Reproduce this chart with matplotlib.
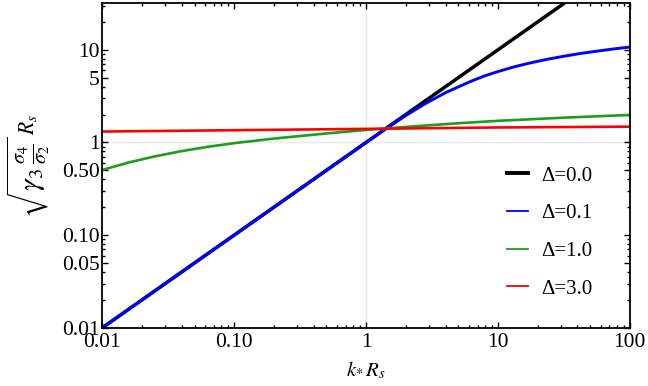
import matplotlib
matplotlib.use('Agg')
import matplotlib.pyplot as plt
from matplotlib.lines import Line2D
from matplotlib.ticker import FixedLocator, LogLocator, NullFormatter

plt.rcParams['font.family'] = ['Liberation Serif', 'DejaVu Serif']
plt.rcParams['mathtext.fontset'] = 'stix'

# ---- data ----
x_black = [0.01, 100.0]
y_black = [0.01, 100.0]

x_blue = [0.01, 0.1, 1.0, 1.41, 2.0, 2.82, 3.98, 5.01, 6.31, 7.94, 10.0, 13.3, 17.8, 23.7, 31.6, 42.2, 56.2, 75.0, 100.0]
y_blue = [0.01, 0.1, 1.0, 1.405, 1.95, 2.63, 3.43, 3.98, 4.60, 5.23, 5.82, 6.55, 7.24, 7.90, 8.51, 9.12, 9.66, 10.2, 10.7]

x_green = [0.01, 0.0158, 0.0251, 0.0398, 0.0631, 0.1, 0.2, 0.5, 1.0, 2.0, 5.0, 10.0, 31.6, 100.0]
y_green = [0.505, 0.607, 0.708, 0.805, 0.897, 0.982, 1.10, 1.25, 1.365, 1.47, 1.61, 1.71, 1.85, 1.98]

x_red = [0.01, 0.1, 1.0, 10.0, 100.0]
y_red = [1.31, 1.355, 1.40, 1.45, 1.48]

labels = ['\u0394=0.0', '\u0394=0.1', '\u0394=1.0', '\u0394=3.0']
colors = ['black', '#0000ff', '#1c9e1c', '#ff0000']

xticks = [0.01, 0.1, 1, 10, 100]
xticklabels = ['0.01', '0.10', '1', '10', '100']
yticks = [0.01, 0.05, 0.1, 0.5, 1, 5, 10]
yticklabels = ['0.01', '0.05', '0.10', '0.50', '1', '5', '10']

W, H = 648, 386
fig = plt.figure(figsize=(W / 100, H / 100), dpi=100)
ax = fig.add_axes([0.158, 0.151, 0.814, 0.840])

ax.axvline(1, color='#e8e8e8', lw=1.0, zorder=0)
ax.axhline(1, color='#e8e8e8', lw=1.0, zorder=0)

ax.plot(x_black, y_black, color=colors[0], lw=2.5, solid_capstyle='butt')
ax.plot(x_blue, y_blue, color=colors[1], lw=2.1, solid_capstyle='butt')
ax.plot(x_green, y_green, color=colors[2], lw=1.9, solid_capstyle='butt')
ax.plot(x_red, y_red, color=colors[3], lw=1.9, solid_capstyle='butt')

ax.set_xscale('log')
ax.set_yscale('log')
ax.set_xlim(0.01, 100)
ax.set_ylim(0.01, 31.6)

ax.xaxis.set_major_locator(FixedLocator(xticks))
ax.set_xticklabels(xticklabels)
ax.yaxis.set_major_locator(FixedLocator(yticks))
ax.set_yticklabels(yticklabels)
ax.xaxis.set_minor_locator(LogLocator(base=10, subs=range(2, 10), numticks=20))
ax.yaxis.set_minor_locator(LogLocator(base=10, subs=range(2, 10), numticks=20))
ax.xaxis.set_minor_formatter(NullFormatter())
ax.yaxis.set_minor_formatter(NullFormatter())

ax.tick_params(which='both', direction='in', top=True, right=True, width=1.0)
ax.tick_params(which='major', length=4.5, labelsize=15.5)
ax.tick_params(axis='x', which='major', pad=4)
ax.tick_params(axis='y', which='major', pad=2)
ax.tick_params(which='minor', length=2.2)
for s in ax.spines.values():
    s.set_linewidth(1.3)

ax.set_xlabel(r'$k_{*}\,R_s$', fontsize=15, labelpad=5)

# y label: square-root part (large) and R_s, drawn as two rotated texts
fig.text(28 / W, 1 - 177 / H, r'$\sqrt{\gamma_3\,\frac{\sigma_4}{\sigma_2}}$', fontsize=21,
         rotation=90, ha='center', va='center')
fig.text(28 / W, 1 - 125 / H, r'$R_s$', fontsize=15.5,
         rotation=90, ha='center', va='center')

handles = [Line2D([], [], color=colors[0], lw=2.8),
           Line2D([], [], color=colors[1], lw=1.3),
           Line2D([], [], color=colors[2], lw=1.3),
           Line2D([], [], color=colors[3], lw=1.3)]
fig.legend(handles, labels, loc='upper left', bbox_to_anchor=(507 / W, 1 - 166 / H),
           frameon=False, fontsize=15, handlelength=1.0, handletextpad=0.65,
           labelspacing=0.87, borderpad=0, borderaxespad=0)

fig.savefig('out.png', dpi=100)
